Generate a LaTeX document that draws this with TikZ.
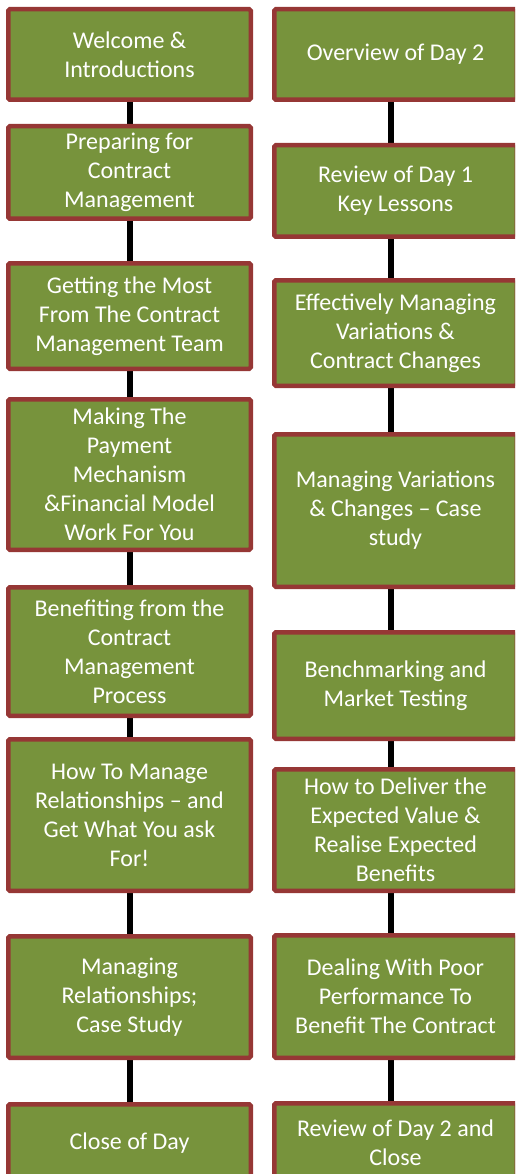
\documentclass[tikz,border=0pt]{standalone}
\usepackage{fontspec}
\setmainfont{Carlito}
\usetikzlibrary{backgrounds}
\definecolor{boxgreen}{RGB}{119,147,60}
\definecolor{boxred}{RGB}{150,55,53}
\begin{document}
\begin{tikzpicture}[x=1pt,y=1pt,
  stagebox/.style={draw=boxred, line width=4.5pt, fill=boxgreen, rounded corners=1.5pt,
    text=white, align=center, inner sep=0pt, anchor=north west,
    minimum width=242.5pt, font=\fontsize{24}{29}\selectfont},
  link/.style={line width=6pt, black}]
\useasboundingbox (0,0) rectangle (515,-1174);
\clip (0,0) rectangle (515,-1174);
% left column
\node[stagebox, minimum height=90.5pt]  (L1) at (6,-7)    {Welcome \&\\Introductions};
\node[stagebox, minimum height=92.5pt]  (L2) at (6,-124)  {Preparing for\\Contract\\Management};
\node[stagebox, minimum height=105.5pt] (L3) at (6,-261)  {Getting the Most\\From The Contract\\Management Team};
\node[stagebox, minimum height=150.5pt] (L4) at (6,-397)  {Making The\\Payment\\Mechanism\\\&Financial Model\\Work For You};
\node[stagebox, minimum height=128.5pt] (L5) at (6,-585)  {Benefiting from the\\Contract\\Management\\Process};
\node[stagebox, minimum height=151.5pt] (L6) at (6,-737)  {How To Manage\\Relationships -- and\\Get What You ask\\For!};
\node[stagebox, minimum height=121.5pt] (L7) at (6,-934)  {Managing\\Relationships;\\Case Study};
\node[stagebox, minimum height=77.5pt]  (L8) at (6,-1102) {Close of Day};
% right column
\node[stagebox, minimum height=90.5pt]  (R1) at (272,-7)    {Overview of Day 2};
\node[stagebox, minimum height=91.5pt]  (R2) at (272,-143)  {Review of Day 1\\Key Lessons};
\node[stagebox, minimum height=105.5pt] (R3) at (272,-278)  {Effectively Managing\\Variations \&\\Contract Changes};
\node[stagebox, minimum height=152.5pt] (R4) at (272,-432)  {Managing Variations\\\& Changes -- Case\\study};
\node[stagebox, minimum height=106.5pt] (R5) at (272,-630)  {Benchmarking and\\Market Testing};
\node[stagebox, minimum height=121.5pt] (R6) at (272,-767)  {How to Deliver the\\Expected Value \&\\Realise Expected\\Benefits};
\node[stagebox, minimum height=122.5pt] (R7) at (272,-933)  {Dealing With Poor\\Performance To\\Benefit The Contract};
\node[stagebox, minimum height=78.5pt]  (R8) at (272,-1101) {Review of Day 2 and\\Close};
\begin{scope}[on background layer]
\foreach \a/\b in {L1/L2,L2/L3,L3/L4,L4/L5,L5/L6,L6/L7,L7/L8}
  \draw[link] (\a.south) -- (\b.north);
\foreach \a/\b in {R1/R2,R2/R3,R3/R4,R4/R5,R5/R6,R6/R7,R7/R8}
  \draw[link] ([xshift=-4.5pt]\a.south) -- ([xshift=-4.5pt]\b.north);
\end{scope}
\end{tikzpicture}
\end{document}
